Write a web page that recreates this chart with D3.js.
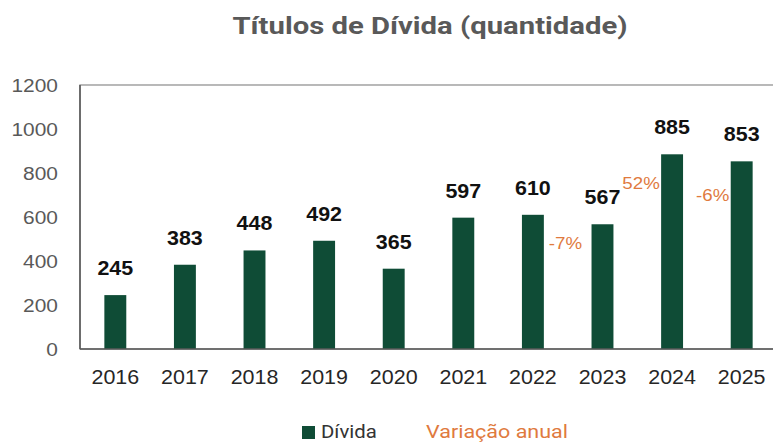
<!DOCTYPE html>
<html lang="pt">
<head>
<meta charset="utf-8">
<title>Títulos de Dívida (quantidade)</title>
<script src="https://cdn.jsdelivr.net/npm/d3@7"></script>
<style>
  html, body { margin: 0; padding: 0; background: #fff; }
  svg { display: block; }
</style>
</head>
<body>
<script>
// data
var years = ["2016", "2017", "2018", "2019", "2020", "2021", "2022", "2023", "2024", "2025"];
var divida = [245, 383, 448, 492, 365, 597, 610, 567, 885, 853];
var variacao = [null, null, null, null, null, null, null, "-7%", "52%", "-6%"];
var yTicks = [0, 200, 400, 600, 800, 1000, 1200];

// the reference is a bit stretched sideways, so draw in narrower units and stretch
var SX = 1.1;
var width = 773, height = 442;
var plot = { left: 80 / SX, right: 777 / SX, top: 85, bottom: 349 };

// where the annual change labels sit, relative to their bar (dx from centre, dy from bar top)
var pctOffset = { "2023": [-37, 19], "2024": [-31, 29], "2025": [-29, 34] };

var green = "#0f4c36";
var orange = "#e07a3e";

var svg = d3.select("body").append("svg")
    .attr("width", width)
    .attr("height", height);

var g = svg.append("g").attr("transform", "scale(" + SX + ",1)");

var x = d3.scaleBand()
    .domain(years)
    .range([plot.left, plot.right])
    .paddingInner(0.685)
    .paddingOuter(0.35);

var y = d3.scaleLinear()
    .domain([0, 1200])
    .range([plot.bottom, plot.top]);

// title
g.append("text")
    .attr("x", 430 / SX)
    .attr("y", 34)
    .attr("text-anchor", "middle")
    .attr("font-family", "Roboto, sans-serif")
    .attr("font-weight", 700)
    .attr("font-size", 24)
    .attr("fill", "#595959")
    .attr("textLength", 395 / SX)
    .attr("lengthAdjust", "spacingAndGlyphs")
    .text("Títulos de Dívida (quantidade)");

// plot frame
g.append("rect")
    .attr("x", plot.left)
    .attr("y", plot.top)
    .attr("width", plot.right - plot.left + 20)
    .attr("height", plot.bottom - plot.top)
    .attr("fill", "none")
    .attr("stroke", "#8a8a8a")
    .attr("stroke-width", 1.2);

// y axis
var yAxis = g.append("g")
    .attr("transform", "translate(" + (58 / SX) + ",0)")
    .call(d3.axisLeft(y).tickValues(yTicks).tickFormat(d3.format("d")).tickSize(0).tickPadding(0));
yAxis.select(".domain").remove();
yAxis.selectAll("text")
    .attr("font-family", "'Liberation Sans', Arial, sans-serif")
    .attr("font-size", 19)
    .attr("fill", "#595959")
    .attr("dy", "0.35em");

// bars
g.selectAll(".bar")
    .data(divida)
    .enter()
    .append("rect")
    .attr("class", "bar")
    .attr("x", function(d, i) { return x(years[i]); })
    .attr("width", x.bandwidth())
    .attr("y", function(d) { return y(d); })
    .attr("height", function(d) { return y(0) - y(d); })
    .attr("fill", green);

// axis lines on left and bottom, drawn over the frame
g.append("line")
    .attr("x1", plot.left).attr("x2", plot.left)
    .attr("y1", plot.top).attr("y2", plot.bottom)
    .attr("stroke", "#595959").attr("stroke-width", 1.4);
g.append("line")
    .attr("x1", plot.left).attr("x2", width / SX)
    .attr("y1", plot.bottom).attr("y2", plot.bottom)
    .attr("stroke", "#595959").attr("stroke-width", 1.4);

// x axis labels
var xAxis = g.append("g")
    .attr("transform", "translate(0," + plot.bottom + ")")
    .call(d3.axisBottom(x).tickSize(0).tickPadding(0));
xAxis.select(".domain").remove();
xAxis.selectAll("text")
    .attr("font-family", "'Liberation Sans', Arial, sans-serif")
    .attr("font-size", 19.5)
    .attr("fill", "#262626")
    .attr("dy", 0)
    .attr("y", 35);

// value labels
g.selectAll(".val")
    .data(divida)
    .enter()
    .append("text")
    .attr("class", "val")
    .attr("x", function(d, i) { return x(years[i]) + x.bandwidth() / 2; })
    .attr("y", function(d) { return y(d) - 20; })
    .attr("text-anchor", "middle")
    .attr("font-family", "'Liberation Sans', Arial, sans-serif")
    .attr("font-weight", 700)
    .attr("font-size", 19.5)
    .attr("fill", "#111")
    .text(function(d) { return d; });

// annual change labels
g.selectAll(".pct")
    .data(variacao.map(function(v, i) { return { v: v, year: years[i], val: divida[i] }; })
        .filter(function(d) { return d.v; }))
    .enter()
    .append("text")
    .attr("class", "pct")
    .attr("x", function(d) { return x(d.year) + x.bandwidth() / 2 + pctOffset[d.year][0] / SX; })
    .attr("y", function(d) { return y(d.val) + pctOffset[d.year][1]; })
    .attr("dy", "0.35em")
    .attr("text-anchor", "middle")
    .attr("font-family", "'Liberation Sans', Arial, sans-serif")
    .attr("font-size", 17)
    .attr("fill", orange)
    .text(function(d) { return d.v; });

// legend
var legend = g.append("g");
legend.append("rect")
    .attr("x", 302 / SX)
    .attr("y", 426)
    .attr("width", 13 / SX)
    .attr("height", 13)
    .attr("fill", green);
legend.append("text")
    .attr("x", 321 / SX)
    .attr("y", 438)
    .attr("font-family", "Roboto, sans-serif")
    .attr("font-size", 18.5)
    .attr("fill", "#333")
    .text("Dívida");
legend.append("text")
    .attr("x", 426 / SX)
    .attr("y", 438)
    .attr("font-family", "Roboto, sans-serif")
    .attr("font-size", 18.5)
    .attr("fill", orange)
    .attr("textLength", 142 / SX)
    .attr("lengthAdjust", "spacingAndGlyphs")
    .text("Variação anual");
</script>
</body>
</html>
